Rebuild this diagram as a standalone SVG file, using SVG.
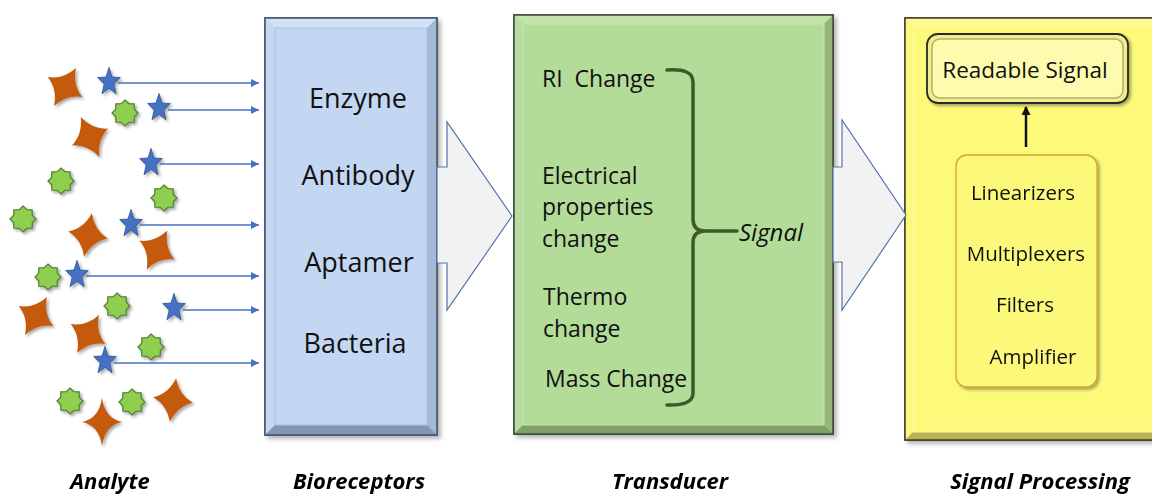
<svg xmlns="http://www.w3.org/2000/svg" width="1152" height="496" viewBox="0 0 1152 496">
<style>
.t{font-family:"Open Sans","Liberation Sans",sans-serif;fill:#111;}
.lab{font-family:"Open Sans","Liberation Sans",sans-serif;font-weight:700;font-style:italic;font-size:22px;fill:#000;text-anchor:middle;}
.bio{font-size:27px;text-anchor:middle;}
.tr{font-size:23px;}
.sp{font-size:20.5px;text-anchor:middle;}
.orange{fill:#c55a11;}
.blue{fill:#4472c4;stroke:#2f528f;stroke-width:0.8;}
.green{fill:#8fcf4f;stroke:#507e32;stroke-width:1.2;}
.barrow{stroke:#4472c4;stroke-width:1.4;fill:none;}
.block{fill:#f2f2f2;stroke:#4f74ab;stroke-width:1.2;}
</style>
<defs>
<filter id="sh" x="-30%" y="-30%" width="160%" height="160%">
<feDropShadow dx="2" dy="2" stdDeviation="1.5" flood-color="#000" flood-opacity="0.35"/>
</filter>
<filter id="bsh" x="-5%" y="-5%" width="115%" height="115%">
<feDropShadow dx="3" dy="3" stdDeviation="2" flood-color="#000" flood-opacity="0.3"/>
</filter>
<path id="star4" d="M0,-22 Q5.5,-5.5 20,0 Q5.5,5.5 0,22 Q-5.5,5.5 -20,0 Q-5.5,-5.5 0,-22Z"/>
<path id="star4s" d="M0,-22 Q3,-3 20,0 Q3,3 0,22 Q-3,3 -20,0 Q-3,-3 0,-22Z"/>
<path id="star5" d="M0,-14.6 L2.97,-4.98 L11.37,-4.5 L4.81,1.9 L7.03,11.78 L0,6.16 L-7.03,11.78 L-4.81,1.9 L-11.37,-4.5 L-2.97,-4.98Z"/>
<path id="star8" d="M0,-13 L3.83,-9.24 L9.19,-9.19 L9.24,-3.83 L13,0 L9.24,3.83 L9.19,9.19 L3.83,9.24 L0,13 L-3.83,9.24 L-9.19,9.19 L-9.24,3.83 L-13,0 L-9.24,-3.83 L-9.19,-9.19 L-3.83,-9.24Z"/>
<marker id="ah" viewBox="0 0 10 10" refX="10" refY="5" markerWidth="9" markerHeight="8" markerUnits="userSpaceOnUse" orient="auto">
<path d="M0,0 L10,5 L0,10Z" fill="#4472c4"/>
</marker>
<marker id="ahk" viewBox="0 0 10 10" refX="9" refY="5" markerWidth="10" markerHeight="9" markerUnits="userSpaceOnUse" orient="auto">
<path d="M0,0 L10,5 L0,10Z" fill="#111"/>
</marker>
</defs>
<rect width="1152" height="496" fill="#fff"/>

<g id="analyte">
<g filter="url(#sh)">
<use href="#star4" class="orange" transform="translate(65,87) rotate(30)"/>
<use href="#star4" class="orange" transform="translate(90,137) rotate(-25)"/>
<use href="#star4" class="orange" transform="translate(88,235) rotate(10)"/>
<use href="#star4" class="orange" transform="translate(157,250) rotate(28)"/>
<use href="#star4" class="orange" transform="translate(36,316) rotate(30)"/>
<use href="#star4" class="orange" transform="translate(88,334) rotate(30)"/>
<use href="#star4" class="orange" transform="translate(173,400) rotate(8)"/>
<use href="#star4s" class="orange" transform="translate(102,422) scale(1,1.1)"/>
<use href="#star8" class="green" transform="translate(125,113)"/>
<use href="#star8" class="green" transform="translate(61,181)"/>
<use href="#star8" class="green" transform="translate(164,198)"/>
<use href="#star8" class="green" transform="translate(23,219)"/>
<use href="#star8" class="green" transform="translate(48,277)"/>
<use href="#star8" class="green" transform="translate(117,306)"/>
<use href="#star8" class="green" transform="translate(151,347)"/>
<use href="#star8" class="green" transform="translate(70,401)"/>
<use href="#star8" class="green" transform="translate(132,402)"/>
<use href="#star5" class="blue" transform="translate(109,82)"/>
<use href="#star5" class="blue" transform="translate(159,108)"/>
<use href="#star5" class="blue" transform="translate(151,163)"/>
<use href="#star5" class="blue" transform="translate(131,224)"/>
<use href="#star5" class="blue" transform="translate(77,275)"/>
<use href="#star5" class="blue" transform="translate(174,308)"/>
<use href="#star5" class="blue" transform="translate(105,361)"/>
</g>
</g>

<g id="bioreceptors">
<rect x="265" y="18" width="172" height="417" fill="#b9cdea" stroke="#43546e" stroke-width="1.5" filter="url(#bsh)"/>
<polygon points="265,18 437,18 427,28 275,28" fill="#d3e2f6"/>
<polygon points="265,18 275,28 275,425 265,435" fill="#c6d8f1"/>
<polygon points="437,18 437,435 427,425 427,28" fill="#a5b8d4"/>
<polygon points="265,435 437,435 427,425 275,425" fill="#8497b1"/>
<rect x="275" y="28" width="152" height="397" fill="#c3d6f2" stroke="#adc2e0" stroke-width="1"/>
<rect x="265" y="18" width="172" height="417" fill="none" stroke="#43546e" stroke-width="1.5"/>
<text class="t bio" x="358" y="108">Enzyme</text>
<text class="t bio" x="358" y="185">Antibody</text>
<text class="t bio" x="359" y="272">Aptamer</text>
<text class="t bio" x="355" y="353">Bacteria</text>
</g>

<g id="transducer">
<rect x="514" y="15" width="319" height="419" fill="#a9d18d" stroke="#3c4c38" stroke-width="1.5" filter="url(#bsh)"/>
<polygon points="514,15 833,15 824,24 523,24" fill="#c4e4ae"/>
<polygon points="514,15 523,24 523,425 514,434" fill="#b9dca1"/>
<polygon points="833,15 833,434 824,425 824,24" fill="#94b67b"/>
<polygon points="514,434 833,434 824,425 523,425" fill="#7f9f69"/>
<rect x="523" y="24" width="301" height="401" fill="#b4dc99" stroke="#c6e6b0" stroke-width="1"/>
<rect x="514" y="15" width="319" height="419" fill="none" stroke="#3c4c38" stroke-width="1.5"/>
<text class="t tr" x="542" y="87" xml:space="preserve">RI  Change</text>
<text class="t tr" x="542" y="184">Electrical</text>
<text class="t tr" x="542" y="215">properties</text>
<text class="t tr" x="542" y="247">change</text>
<text class="t tr" x="543" y="305">Thermo</text>
<text class="t tr" x="543" y="337">change</text>
<text class="t tr" x="545" y="387">Mass Change</text>
<path d="M667,70 Q693,68 693,82 L693,219 Q693,231 705,231 L737,231 M705,231 Q693,231 693,243 L693,393 Q693,406 667,405" fill="none" stroke="#3d5a28" stroke-width="3.5" stroke-linecap="round" stroke-linejoin="round"/>
<text class="t" x="739" y="241" font-size="24" font-style="italic">Signal</text>
</g>

<g id="signal-processing">
<rect x="905" y="18" width="262" height="422" fill="#f4f06a" stroke="#3f3f2a" stroke-width="1.5" filter="url(#bsh)"/>
<polygon points="905,18 1167,18 1159,26 913,26" fill="#fdfa92"/>
<polygon points="905,18 913,26 913,432 905,440" fill="#fbf880"/>
<polygon points="905,440 1167,440 1159,432 913,432" fill="#b8b452"/>
<rect x="913" y="26" width="250" height="406" fill="#fcf97b" stroke="#fdfba8" stroke-width="1"/>
<rect x="905" y="18" width="262" height="422" fill="none" stroke="#3f3f2a" stroke-width="1.5"/>
</g>

<g id="readable-signal">
<rect x="927" y="34" width="201" height="69" rx="11" fill="#f1ec8e" stroke="#2b2b2b" stroke-width="1.8" filter="url(#sh)"/>
<rect x="932" y="39" width="191" height="59" rx="8" fill="#fdfcae" stroke="#b3ad66" stroke-width="1.5"/>
<text class="t" x="1025" y="78" font-size="22.5" text-anchor="middle">Readable Signal</text>
</g>

<g id="processing-stages">
<rect x="956" y="155" width="141" height="232" rx="11" fill="#fbf87a" stroke="#d2a431" stroke-width="1.3" filter="url(#sh)"/>
<text class="t sp" x="1023" y="200">Linearizers</text>
<text class="t sp" x="1026" y="261">Multiplexers</text>
<text class="t sp" x="1025" y="312">Filters</text>
<text class="t sp" x="1033" y="364">Amplifier</text>
</g>

<g id="connectors">
<polygon class="block" points="437,167 447,167 447,122 512,216 447,310 447,263 437,263"/>
<polygon class="block" points="833,167 842,167 842,120 906,215 842,310 842,262 833,262"/>
<line class="barrow" x1="118" y1="83" x2="259" y2="83" marker-end="url(#ah)"/>
<line class="barrow" x1="168" y1="110" x2="259" y2="110" marker-end="url(#ah)"/>
<line class="barrow" x1="160" y1="164" x2="259" y2="164" marker-end="url(#ah)"/>
<line class="barrow" x1="140" y1="225" x2="259" y2="225" marker-end="url(#ah)"/>
<line class="barrow" x1="86" y1="276" x2="259" y2="276" marker-end="url(#ah)"/>
<line class="barrow" x1="183" y1="310" x2="259" y2="310" marker-end="url(#ah)"/>
<line class="barrow" x1="114" y1="363" x2="259" y2="363" marker-end="url(#ah)"/>
<line x1="1026" y1="147" x2="1026" y2="107" stroke="#111" stroke-width="2.5" marker-end="url(#ahk)"/>
</g>

<g id="labels">
<text class="lab" x="110" y="489">Analyte</text>
<text class="lab" x="359" y="489">Bioreceptors</text>
<text class="lab" x="670" y="489">Transducer</text>
<text class="lab" x="1040" y="489">Signal Processing</text>
</g>
</svg>
